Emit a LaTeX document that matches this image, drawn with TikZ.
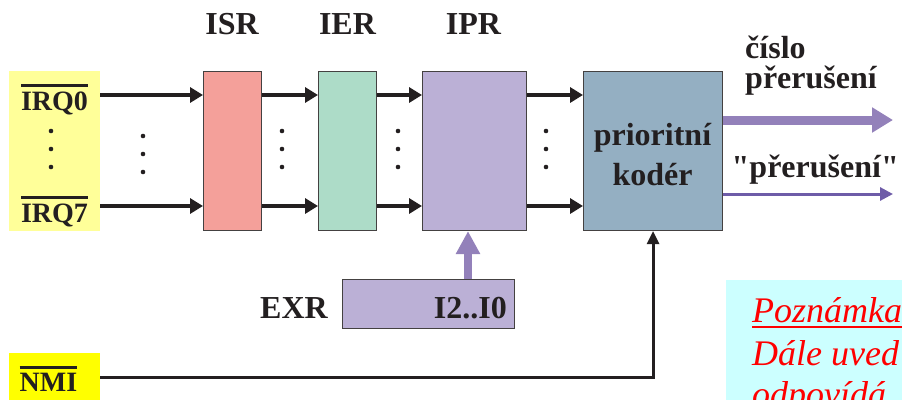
\documentclass[tikz,border=0pt]{standalone}
\usepackage{fontspec}
\setmainfont{Liberation Serif}
\newfontfamily\rawserif{Liberation Serif}[Ligatures=TeXOff]
\usetikzlibrary{arrows.meta}

\definecolor{ink}{HTML}{231F20}
\definecolor{irqc}{HTML}{FFFF99}
\definecolor{nmic}{HTML}{FFFF00}
\definecolor{isrc}{HTML}{F4A09A}
\definecolor{ierc}{HTML}{ADDCC8}
\definecolor{iprc}{HTML}{BBB0D6}
\definecolor{kodc}{HTML}{94AFC2}
\definecolor{thickc}{HTML}{9381BA}
\definecolor{thinc}{HTML}{6E5CA8}
\definecolor{notec}{HTML}{CCFFFF}
\definecolor{redc}{HTML}{FF0000}

% overlined and underlined words
\newcommand{\ovl}[1]{\vbox{\hrule height 3pt\kern 4pt\hbox{#1}}}
\newcommand{\undl}[1]{\vtop{\hbox{#1}\kern 3.5pt\hrule height 2.5pt}}

\tikzset{
  reg/.style={draw=ink!85, line width=1.1pt, inner sep=0pt, anchor=north west},
  inbox/.style={inner sep=0pt, anchor=north west},
  lbl/.style={font=\fontsize{32}{38}\selectfont\bfseries, inner sep=0pt, text=ink},
  irqlbl/.style={font=\fontsize{28}{32}\selectfont\bfseries, inner sep=0pt, text=ink},
  notetxt/.style={font=\fontsize{36}{43}\selectfont\itshape, text=redc, inner sep=0pt, anchor=base west},
  sig/.style={draw=ink, line width=4pt, -{Triangle[length=13pt,width=15pt]}},
  nmiline/.style={draw=ink, line width=3pt, -{Triangle[length=13pt,width=12pt]}},
  bigout/.style={draw=thickc, line width=9pt, -{Triangle[length=21pt,width=24pt]}},
  smallout/.style={draw=thinc, line width=3pt, -{Triangle[length=13pt,width=13pt]}},
  uparrow/.style={draw=thickc, line width=8pt, -{Triangle[length=23pt,width=23pt]}},
  dot/.style={fill=ink}
}

\begin{document}
\begin{tikzpicture}[x=1pt,y=-1pt]
\useasboundingbox (0,0) rectangle (902,399);

% input blocks
\node[inbox, fill=irqc, minimum width=91pt, minimum height=160pt] (irqbox) at (9,71) {};
\node[inbox, fill=nmic, minimum width=91pt, minimum height=48pt] (nmibox) at (9,353) {};

% registers and encoder
\node[reg, fill=isrc, minimum width=58pt, minimum height=159pt] (isr) at (203,71) {};
\node[reg, fill=ierc, minimum width=58pt, minimum height=159pt] (ier) at (318,71) {};
\node[reg, fill=iprc, minimum width=104pt, minimum height=159pt] (ipr) at (422,71) {};
\node[reg, fill=kodc, minimum width=139pt, minimum height=159pt] (koder) at (583,71) {};
\node[reg, fill=iprc, minimum width=172pt, minimum height=49pt] (exr) at (342,279) {};

% register titles
\node[lbl, anchor=base] (tisr) at (232,34) {ISR};
\node[lbl, anchor=base] (tier) at (347.5,34) {IER};
\node[lbl, anchor=base] (tipr) at (473.5,34) {IPR};

% encoder text
\node[lbl, anchor=base] (tprio) at (652.5,145) {prioritní};
\node[lbl, anchor=base] (tkod) at (652.5,185) {kodér};

% input labels
\node[irqlbl, anchor=base] (tirq0) at (54.5,110) {\ovl{IRQ0}};
\node[irqlbl, anchor=base] (tirq7) at (54.5,222) {\ovl{IRQ7}};
\node[irqlbl, anchor=base] (tnmi) at (48.5,391) {\ovl{NMI}};

% EXR register
\node[lbl, anchor=base east] (texr) at (328,318) {EXR};
\node[lbl, anchor=base east] (tbits) at (507,318) {I2..I0};

% output labels
\node[lbl, anchor=base west] (tcislo) at (745,58) {číslo};
\node[lbl, anchor=base west] (tprer) at (745,88) {přerušení};
\node[lbl, anchor=base east] (tint) at (899,177) {\rawserif "přerušení"};

% row coordinates
\coordinate (r0) at (0,95);
\coordinate (r7) at (0,206);
\coordinate (o1) at (893,120);
\coordinate (o2) at (893,194);
\coordinate (upx) at (468,0);

% signal arrows
\foreach \a/\b in {irqbox/isr, isr/ier, ier/ipr, ipr/koder}{
  \draw[sig] (\a.east |- r0) -- (\b.west |- r0);
  \draw[sig] (\a.east |- r7) -- (\b.west |- r7);
}

% ellipsis dots
\foreach \x/\y in {51/131, 143/136, 282/131, 398/131, 546/131}{
  \fill[dot] (\x,\y) circle (2.3pt);
  \fill[dot] (\x,\y+18) circle (2.3pt);
  \fill[dot] (\x,\y+36) circle (2.3pt);
}

% outputs
\draw[bigout] (koder.east |- o1) -- (o1);
\draw[smallout] (koder.east |- o2) -- (o2);

% EXR to IPR
\draw[uparrow] (exr.north -| upx) -- (ipr.south -| upx);

% NMI to encoder
\draw[nmiline] (nmibox.east) -| (koder.south);

% note
\begin{scope}
\clip (0,0) rectangle (902,399);
\fill[notec] (726,280) rectangle (910,410);
\node[notetxt] (npoz) at (752,322) {\undl{Poznámka}};
\node[notetxt] (ndale) at (752,365) {Dále uved};
\node[notetxt] (nodp) at (752,406) {odpovídá};
\end{scope}
\end{tikzpicture}
\end{document}
